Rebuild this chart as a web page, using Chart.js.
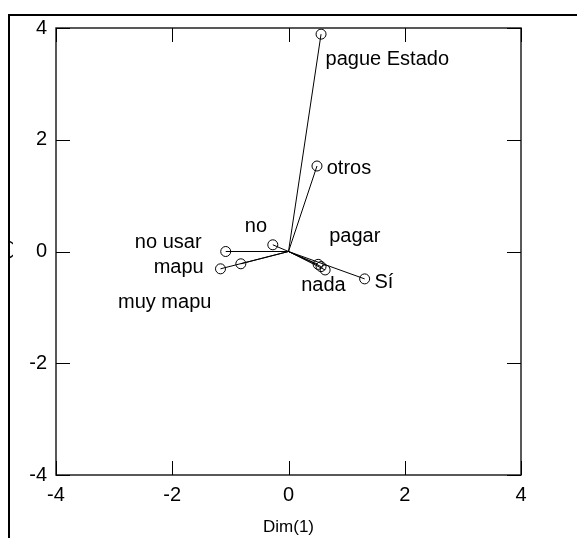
<!DOCTYPE html>
<html>
<head>
<meta charset="utf-8">
<script src="https://cdn.jsdelivr.net/npm/chart.js@4"></script>
<style>
  html, body { margin: 0; padding: 0; background: #fff; }
  #wrap { width: 577px; height: 538px; position: relative; }
</style>
</head>
<body>
<div id="wrap"><canvas id="biplot"></canvas></div>
<script>
// puntos (Dim 1, Dim 2)
const pointNames = ['pague Estado', 'otros', 'no', 'no usar', 'mapu', 'muy mapu', 'pagar', 'x', 'nada', 'Sí'];
const dim1 = [0.56, 0.49, -0.27, -1.08, -0.82, -1.17, 0.51, 0.56, 0.63, 1.31];
const dim2 = [3.89, 1.53, 0.12, 0.00, -0.22, -0.31, -0.23, -0.27, -0.33, -0.49];

// etiquetas (centro del texto, en unidades de los ejes)
const labelText = ['pague Estado', 'otros', 'no', 'no usar', 'mapu', 'muy mapu', 'pagar', 'nada', 'Sí'];
const labelDim1 = [1.70, 1.04, -0.56, -2.07, -1.89, -2.13, 1.14, 0.60, 1.64];
const labelDim2 = [3.44, 1.48, 0.44, 0.17, -0.28, -0.92, 0.26, -0.60, -0.55];

const tickValues = [-4, -2, 0, 2, 4];
const FONT = 'Arial, "Liberation Sans", sans-serif';

// lineas desde el origen hasta cada punto
const vectorSets = dim1.map((x, i) => ({
    type: 'line',
    data: [{ x: 0, y: 0 }, { x: x, y: dim2[i] }],
    borderColor: '#000',
    borderWidth: 1,
    pointRadius: 0,
    fill: false,
    tension: 0
}));

const pointSet = {
    type: 'scatter',
    data: dim1.map((x, i) => ({ x: x, y: dim2[i] })),
    pointStyle: 'circle',
    pointRadius: 5,
    borderColor: '#000',
    borderWidth: 1,
    backgroundColor: 'rgba(0,0,0,0)'
};

const boxPlugin = {
    id: 'boxPlugin',
    afterDraw(chart) {
        const ctx = chart.ctx;
        const a = chart.chartArea;
        const xs = chart.scales.x, ys = chart.scales.y;
        ctx.save();
        // marco del grafico
        ctx.strokeStyle = '#222';
        ctx.lineWidth = 1.5;
        ctx.strokeRect(a.left, a.top, a.right - a.left, a.bottom - a.top);
        // marcas hacia adentro
        ctx.lineWidth = 1;
        ctx.strokeStyle = '#000';
        ctx.beginPath();
        tickValues.forEach(v => {
            const px = Math.round(xs.getPixelForValue(v)) + 0.5;
            ctx.moveTo(px, a.top); ctx.lineTo(px, a.top + 14);
            ctx.moveTo(px, a.bottom); ctx.lineTo(px, a.bottom - 14);
            const py = Math.round(ys.getPixelForValue(v)) + 0.5;
            ctx.moveTo(a.left, py); ctx.lineTo(a.left + 14, py);
            ctx.moveTo(a.right, py); ctx.lineTo(a.right - 14, py);
        });
        ctx.stroke();
        // etiquetas
        ctx.fillStyle = '#000';
        ctx.font = '20px ' + FONT;
        ctx.textAlign = 'center';
        ctx.textBaseline = 'middle';
        labelText.forEach((t, i) => {
            ctx.fillText(t, xs.getPixelForValue(labelDim1[i]), ys.getPixelForValue(labelDim2[i]));
        });
        // borde de la pagina recortada
        ctx.lineWidth = 2;
        ctx.beginPath();
        ctx.moveTo(9, 538); ctx.lineTo(9, 15); ctx.lineTo(577, 15);
        ctx.stroke();
        // titulo del eje vertical, casi fuera del recorte
        ctx.beginPath();
        ctx.rect(10, 16, 40, 500);
        ctx.clip();
        ctx.translate(9, ys.getPixelForValue(-0.25));
        ctx.rotate(-Math.PI / 2);
        ctx.font = '18px ' + FONT;
        ctx.textBaseline = 'alphabetic';
        ctx.fillText('Dim(2)', 0, 0);
        ctx.restore();
    }
};

new Chart(document.getElementById('biplot'), {
    data: { datasets: [...vectorSets, pointSet] },
    options: {
        responsive: true,
        maintainAspectRatio: false,
        animation: false,
        layout: { padding: { top: 28, right: 56, left: 0, bottom: 0 } },
        plugins: { legend: { display: false }, tooltip: { enabled: false } },
        scales: {
            x: {
                type: 'linear',
                min: -4, max: 4,
                afterBuildTicks: s => { s.ticks = tickValues.map(v => ({ value: v })); },
                afterFit: s => { s.height = 63; },
                grid: { display: false, drawTicks: false },
                border: { display: false },
                ticks: { color: '#000', font: { size: 20, family: FONT }, padding: 8, maxRotation: 0 },
                title: { display: true, text: 'Dim(1)', color: '#000', font: { size: 17, family: FONT }, padding: { top: 0, bottom: 0 } }
            },
            y: {
                type: 'linear',
                min: -4, max: 4,
                afterBuildTicks: s => { s.ticks = tickValues.map(v => ({ value: v })); },
                afterFit: s => { s.width = 56; },
                grid: { display: false, drawTicks: false },
                border: { display: false },
                ticks: { color: '#000', font: { size: 20, family: FONT }, padding: 9 }
            }
        }
    },
    plugins: [boxPlugin]
});
</script>
</body>
</html>
